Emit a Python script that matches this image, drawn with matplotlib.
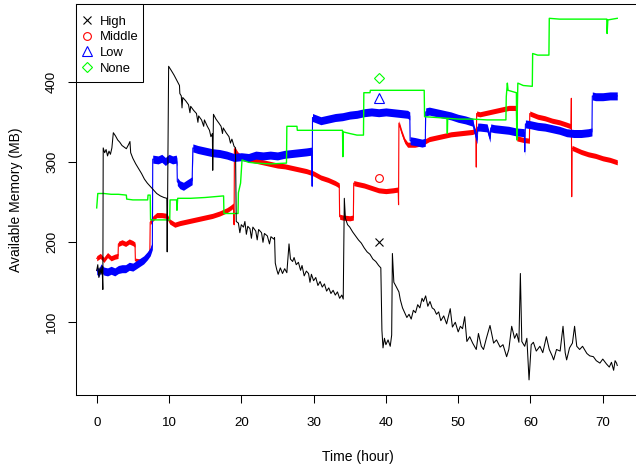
import numpy as np
import matplotlib
matplotlib.use('Agg')
import matplotlib.pyplot as plt
from matplotlib.patches import Rectangle

plt.rcParams['font.family'] = ['Liberation Sans', 'DejaVu Sans']

# --- data: time (hour) / available memory (MB) ---
high_t = [0.0, 0.15, 0.3, 0.45, 0.6, 0.75, 0.85, 0.9, 1.1, 1.3, 1.5, 1.7, 1.9, 2.1, 2.3, 2.6, 2.9, 3.2, 3.5, 3.8,
          4.1, 4.4, 4.6, 4.7, 5.0, 5.4, 5.8, 6.2, 6.6, 7.0, 7.4, 7.8, 8.3, 8.8, 9.3, 9.7, 9.75, 9.85, 9.95, 10.3,
          10.7, 11.1, 11.45, 11.5, 11.7, 11.8, 11.9, 12.3, 12.7, 12.9, 13.0, 13.4, 13.8, 14.0, 14.1, 14.5, 14.8, 14.9, 15.3, 15.6,
          15.8, 16.0, 16.05, 16.15, 16.5, 16.9, 17.2, 17.4, 17.5, 17.9, 18.3, 18.5, 18.7, 19.0, 19.2, 19.3, 19.6, 19.8, 20.0, 20.3,
          20.5, 20.7, 20.9, 21.2, 21.4, 21.6, 22.0, 22.2, 22.4, 22.8, 23.0, 23.2, 23.6, 23.9, 24.1, 24.5, 24.6, 24.7, 24.9, 25.1,
          25.4, 25.7, 26.0, 26.3, 26.6, 26.8, 27.1, 27.3, 27.6, 27.9, 28.2, 28.4, 28.7, 29.0, 29.3, 29.5, 29.7, 30.0, 30.3, 30.6,
          30.9, 31.2, 31.5, 31.8, 32.1, 32.4, 32.7, 33.0, 33.3, 33.6, 33.9, 34.1, 34.25, 34.4, 34.7, 35.0, 35.4, 35.8, 36.2, 36.6,
          37.0, 37.4, 37.8, 38.2, 38.6, 39.0, 39.3, 39.45, 39.6, 39.8, 40.0, 40.3, 40.6, 40.8, 40.9, 41.1, 41.4, 41.8, 42.0, 42.3,
          42.6, 42.9, 43.2, 43.5, 43.8, 44.1, 44.4, 44.7, 45.0, 45.2, 45.5, 45.8, 46.1, 46.4, 46.7, 47.0, 47.3, 47.6, 48.0, 48.4,
          48.9, 49.2, 49.6, 50.0, 50.3, 50.6, 50.9, 51.2, 51.6, 52.0, 52.5, 52.8, 53.2, 53.5, 53.9, 54.4, 54.9, 55.3, 55.8, 56.2,
          56.7, 57.0, 57.4, 57.8, 58.1, 58.4, 58.6, 58.8, 59.2, 59.5, 59.8, 60.1, 60.4, 60.8, 61.3, 61.7, 62.2, 62.6, 63.0, 63.2,
          63.6, 64.1, 64.5, 64.8, 65.0, 65.4, 65.8, 66.1, 66.4, 66.8, 67.2, 67.8, 68.2, 68.7, 69.1, 69.6, 70.0, 70.5, 70.9, 71.2,
          71.5, 71.7, 71.9, 72.0]
high_mb = [165, 172, 156, 168, 160, 170, 141, 318, 312, 316, 308, 314, 310, 318, 337, 333, 328, 325, 321, 319,
           317, 322, 326, 312, 305, 298, 292, 286, 279, 274, 270, 266, 261, 258, 256, 255, 188, 300, 420, 415,
           409, 402, 396, 386, 383, 368, 381, 377, 372, 362, 370, 365, 361, 350, 358, 353, 345, 353, 345, 340,
           332, 336, 290, 360, 354, 349, 345, 336, 343, 337, 332, 324, 329, 320, 318, 226, 224, 212, 222, 219,
           226, 210, 220, 217, 205, 219, 214, 203, 216, 212, 200, 211, 208, 198, 207, 204, 206, 174, 166, 160,
           168, 161, 167, 162, 198, 179, 176, 181, 172, 175, 165, 171, 158, 164, 161, 150, 160, 152, 156, 146,
           151, 144, 148, 139, 143, 136, 140, 134, 138, 130, 134, 129, 255, 230, 222, 219, 213, 208, 203, 199,
           193, 188, 185, 179, 176, 171, 168, 90, 68, 80, 72, 78, 70, 84, 186, 150, 145, 138, 128, 118,
           112, 106, 110, 104, 115, 112, 122, 118, 130, 126, 133, 120, 126, 118, 116, 110, 113, 102, 108, 98,
           117, 94, 100, 88, 95, 92, 107, 76, 82, 74, 66, 86, 70, 66, 80, 96, 74, 78, 69, 72,
           57, 66, 95, 80, 86, 75, 161, 76, 70, 80, 28, 72, 75, 64, 70, 62, 82, 66, 58, 53,
           66, 64, 95, 62, 53, 68, 74, 95, 70, 66, 70, 61, 58, 57, 52, 49, 54, 48, 44, 50,
           40, 52, 49, 46]

middle_t = [0.0, 0.5, 1.0, 1.5, 2.0, 2.5, 2.95, 3.0, 3.5, 4.0, 4.5, 5.0, 5.3, 5.35, 6.0, 6.5, 6.9, 7.2, 7.35, 7.4,
            7.8, 8.3, 9.0, 9.7, 10.1, 10.8, 11.5, 12.0, 13.0, 14.0, 15.0, 16.0, 17.0, 18.0, 18.5, 18.9, 19.0, 19.05, 19.5, 20.0,
            21.0, 22.0, 23.0, 24.0, 25.0, 26.0, 27.0, 28.0, 29.0, 30.0, 31.0, 32.0, 33.0, 33.55, 33.6, 34.0, 35.0, 35.5, 35.55, 36.0,
            37.0, 38.0, 39.0, 40.0, 41.0, 41.7, 41.75, 41.8, 42.2, 42.6, 43.0, 44.0, 45.0, 46.0, 47.0, 48.0, 49.0, 50.0, 51.0, 52.0,
            52.45, 52.5, 52.55, 53.0, 54.0, 55.0, 56.0, 57.0, 58.05, 58.1, 59.0, 59.85, 59.9, 61.0, 62.0, 63.0, 64.0, 65.0, 65.6, 65.65,
            65.7, 65.75, 67.0, 68.0, 69.0, 70.0, 71.0, 72.0]
middle_mb = [180, 183, 178, 184, 180, 182, 183, 198, 200, 198, 201, 199, 197, 177, 176, 178, 182, 186, 190, 225,
             230, 234, 234, 233, 226, 222, 224, 225, 227, 229, 231, 233, 236, 240, 243, 246, 222, 317, 310, 306,
             304, 302, 300, 298, 296, 295, 293, 291, 289, 286, 281, 278, 274, 271, 232, 231, 230, 231, 274, 273,
             271, 268, 265, 264, 265, 266, 247, 349, 337, 327, 322, 322, 324, 329, 331, 333, 335, 336, 337, 338,
             340, 294, 361, 360, 362, 364, 366, 368, 368, 330, 328, 327, 361, 357, 355, 352, 350, 347, 345, 380,
             257, 318, 313, 310, 308, 305, 303, 300]

low_t = [0.0, 0.3, 0.6, 1.0, 1.5, 2.0, 2.5, 3.0, 3.5, 4.0, 4.5, 5.0, 5.5, 6.0, 6.5, 7.0, 7.4, 7.7, 7.75, 8.5,
         9.0, 9.5, 10.0, 10.5, 11.0, 11.1, 11.15, 11.5, 12.0, 12.5, 13.2, 13.3, 14.0, 15.0, 16.0, 17.0, 18.0, 19.0, 20.0, 21.0,
         22.0, 23.0, 24.0, 25.0, 26.0, 27.0, 28.0, 29.0, 29.75, 29.8, 29.85, 31.0, 32.0, 33.0, 34.0, 35.0, 36.0, 37.0, 38.0, 39.0,
         40.0, 41.0, 42.0, 43.0, 43.3, 43.35, 44.0, 45.0, 45.45, 45.5, 46.0, 47.0, 48.0, 49.0, 50.0, 51.0, 52.05, 52.1, 52.6, 52.7,
         53.0, 54.0, 54.4, 54.5, 55.0, 56.0, 57.0, 58.0, 59.15, 59.2, 59.3, 60.0, 61.0, 62.0, 63.0, 64.0, 65.0, 66.0, 67.0, 68.0,
         68.5, 68.55, 69.0, 70.0, 71.0, 72.0]
low_mb = [165, 162, 168, 164, 163, 165, 163, 166, 167, 167, 170, 169, 172, 175, 178, 183, 188, 196, 304, 303,
          305, 301, 305, 303, 304, 300, 276, 272, 270, 273, 277, 318, 316, 314, 312, 311, 309, 306, 307, 306,
          309, 308, 309, 308, 310, 311, 312, 313, 314, 270, 356, 352, 354, 356, 357, 359, 360, 362, 363, 362,
          363, 362, 361, 360, 358, 327, 326, 324, 325, 363, 364, 362, 360, 358, 355, 353, 350, 345, 328, 344,
          344, 343, 330, 343, 342, 341, 340, 338, 337, 313, 348, 347, 345, 344, 342, 340, 337, 336, 336, 337,
          338, 383, 382, 382, 383, 383]

none_t = [0.0, 0.15, 1.0, 2.0, 3.0, 4.1, 4.15, 5.0, 6.0, 7.05, 7.1, 7.4, 7.45, 8.5, 10.1, 10.15, 11.05, 11.1, 11.2, 13.0,
          15.0, 17.55, 17.6, 19.55, 19.6, 19.9, 20.1, 21.0, 22.0, 24.0, 26.25, 26.3, 27.7, 27.75, 34.0, 34.05, 34.1, 35.0, 36.0, 36.9,
          36.95, 37.8, 37.85, 45.3, 45.35, 47.0, 48.45, 48.5, 48.55, 50.0, 52.0, 54.0, 56.6, 56.65, 56.8, 56.9, 58.05, 58.1, 58.25, 59.0,
          60.25, 60.3, 61.0, 62.55, 62.6, 64.0, 66.0, 68.0, 70.55, 70.6, 70.7, 72.0]
none_mb = [243, 261, 261, 260, 260, 259, 254, 253, 253, 253, 259, 259, 228, 228, 228, 253, 253, 240, 255, 255,
           256, 258, 236, 236, 262, 274, 303, 300, 299, 298, 299, 345, 345, 340, 340, 307, 338, 336, 334, 334,
           387, 387, 390, 390, 357, 356, 355, 336, 355, 354, 354, 353, 353, 382, 399, 390, 387, 328, 399, 396,
           395, 436, 434, 434, 480, 479, 479, 479, 479, 461, 478, 480]

# single symbols drawn at hour 39
mark_t = 39
mark_mb = {'High': 200, 'Middle': 280, 'Low': 380, 'None': 405}

names = ['High', 'Middle', 'Low', 'None']
colors = {'High': 'black', 'Middle': '#FF0000', 'Low': '#0000FF', 'None': '#00FF00'}
symbols = {'High': 'x', 'Middle': 'o', 'Low': '^', 'None': 'D'}
msize = {'High': 5.2, 'Middle': 5.6, 'Low': 6.5, 'None': 5.0}

W, H = 562.5, 391.0      # axes size in pixels
fig = plt.figure(figsize=(6.36, 4.66), dpi=100)
ax = fig.add_axes([76 / 636, 71 / 466, W / 636, H / 466])

# red and blue are dense noisy bands -> band + thin line
for name, t, mb, half in [('Middle', middle_t, middle_mb, 3.2), ('Low', low_t, low_mb, 5.0)]:
    t = np.array(t, dtype=float)
    mb = np.array(mb, dtype=float)
    ax.fill_between(t, mb - half, mb + half, color=colors[name], lw=0, zorder=2)
    ax.plot(t, mb, color=colors[name], lw=0.8, zorder=2)

ax.plot(none_t, none_mb, color=colors['None'], lw=1.0, zorder=3)
ax.plot(high_t, high_mb, color=colors['High'], lw=0.75, zorder=4)

for name in names:
    ax.plot(mark_t, mark_mb[name], symbols[name], color=colors[name], mfc='none',
            ms=msize[name], mew=0.8, zorder=5)

ax.set_xlim(-2.863, 74.94)
ax.set_ylim(9.1, 497.9)
ax.set_xticks(np.arange(0, 71, 10))
ax.set_yticks([100, 200, 300, 400])
ax.tick_params(axis='both', direction='out', length=6, width=0.75, labelsize=9.6, color='black')
ax.tick_params(axis='x', pad=10)
ax.tick_params(axis='y', pad=6.9, labelrotation=90)
for lbl in ax.get_yticklabels():
    lbl.set_va('center')
for sp in ax.spines.values():
    sp.set_linewidth(0.75)

fig.text(358.3 / 636, (466 - 461.5) / 466, 'Time (hour)', ha='center', va='baseline', fontsize=10)
fig.text(20.5 / 636, 1 - 199.5 / 466, 'Available Memory (MB)', rotation=90, rotation_mode='anchor',
         ha='center', va='baseline', fontsize=10)

# legend box in the top left corner, R style (pixel offsets from the corner)
ax.add_patch(Rectangle((0, 1 - 78 / H), 67.3 / W, 78 / H, transform=ax.transAxes, facecolor='white',
                       edgecolor='black', lw=0.75, zorder=6, clip_on=False))
for i, name in enumerate(names):
    yc = 16 + i * 15.6
    ax.plot(11 / W, 1 - yc / H, symbols[name], color=colors[name], mfc='none', ms=msize[name], mew=0.8,
            transform=ax.transAxes, zorder=7, clip_on=False)
    ax.text(24 / W, 1 - (yc + 4.7) / H, name, transform=ax.transAxes, fontsize=9.4, va='baseline',
            ha='left', zorder=7)

fig.savefig('out.png', dpi=100)
